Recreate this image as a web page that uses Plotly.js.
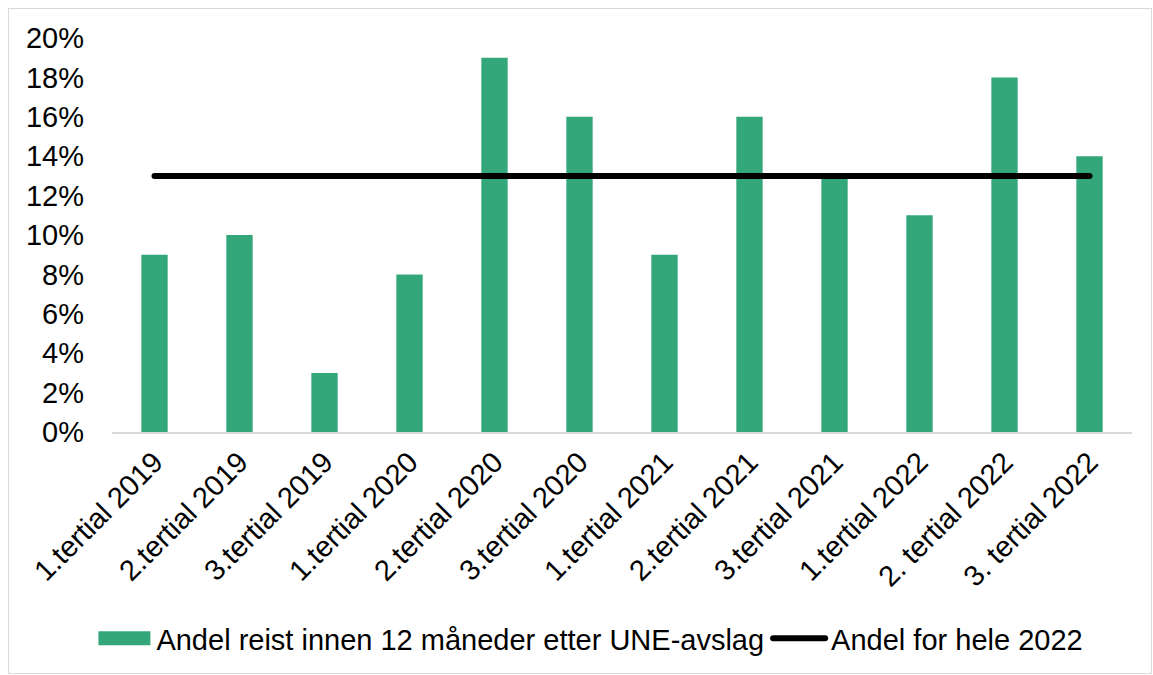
<!DOCTYPE html>
<html>
<head>
<meta charset="utf-8">
<script src="https://cdn.plot.ly/plotly-3.0.1.min.js"></script>
<style>
html,body{margin:0;padding:0;background:#fff;}
#frame{position:absolute;left:8px;top:8px;width:1142px;height:664px;border:1px solid #d9d9d9;}
#chart{position:absolute;left:0;top:0;width:1153px;height:675px;}
</style>
</head>
<body>
<div id="frame"></div>
<div id="chart"></div>
<script>
const categories = ["1.tertial 2019","2.tertial 2019","3.tertial 2019","1.tertial 2020","2.tertial 2020","3.tertial 2020","1.tertial 2021","2.tertial 2021","3.tertial 2021","1.tertial 2022","2. tertial 2022","3. tertial 2022"];
const barValues = [9,10,3,8,19,16,9,16,13,11,18,14];
const lineValues = [13,13,13,13,13,13,13,13,13,13,13,13];
const yTicks = [0,2,4,6,8,10,12,14,16,18,20];
const barName = "Andel reist innen 12 måneder etter UNE-avslag";
const lineName = "Andel for hele 2022";

const font = {family: "Liberation Sans, Arial, sans-serif", color: "#000", size: 29};

const data = [
  {type: "bar", x: categories, y: barValues, name: barName,
   marker: {color: "#34A77A"}, hoverinfo: "x+y"},
  {type: "scatter", mode: "lines", x: categories, y: lineValues, name: lineName,
   line: {color: "#000", width: 6}}
];

const layout = {
  width: 1153, height: 675,
  paper_bgcolor: "rgba(0,0,0,0)", plot_bgcolor: "rgba(0,0,0,0)",
  margin: {l: 112, r: 21, t: 38, b: 242},
  font: font,
  bargap: 0.69,
  showlegend: true,
  legend: {orientation: "h", x: 0.47, xanchor: "center", y: -0.52, yanchor: "middle",
           font: font, traceorder: "normal", itemwidth: 52},
  xaxis: {type: "category", tickangle: -45, showgrid: false, zeroline: false,
          showline: true, linecolor: "#d9d9d9", linewidth: 1.5,
          ticks: "", tickfont: font, automargin: false},
  yaxis: {range: [0, 20], tickvals: yTicks, ticktext: yTicks.map(v => v + "%"),
          showgrid: false, zeroline: false, showline: false, ticks: "",
          tickfont: font, ticklabelstandoff: 27, automargin: false}
};

Plotly.newPlot("chart", data, layout, {displayModeBar: false, staticPlot: true}).then(() => {
  document.querySelectorAll("#chart .js-line").forEach(p => p.style.strokeLinecap = "round");
  const items = document.querySelectorAll("#chart .legend .traces");
  items.forEach((t, i) => {
    const txt = t.querySelector("text.legendtext");
    const tx = parseFloat(txt.getAttribute("x")) || 40;
    t.querySelectorAll("path").forEach(p => {
      let el = p;
      while (el && el !== t) { el.removeAttribute("transform"); el = el.parentNode; }
      const isBar = i === 0;
      if (isBar) {
        if (p.classList.contains("js-line")) { p.style.display = "none"; return; }
        p.setAttribute("d", `M${tx-58},-7h52v14h-52Z`);
      } else {
        p.setAttribute("d", `M${tx-58},0h52`);
        p.style.strokeLinecap = "round";
      }
    });
  });
});
</script>
</body>
</html>
